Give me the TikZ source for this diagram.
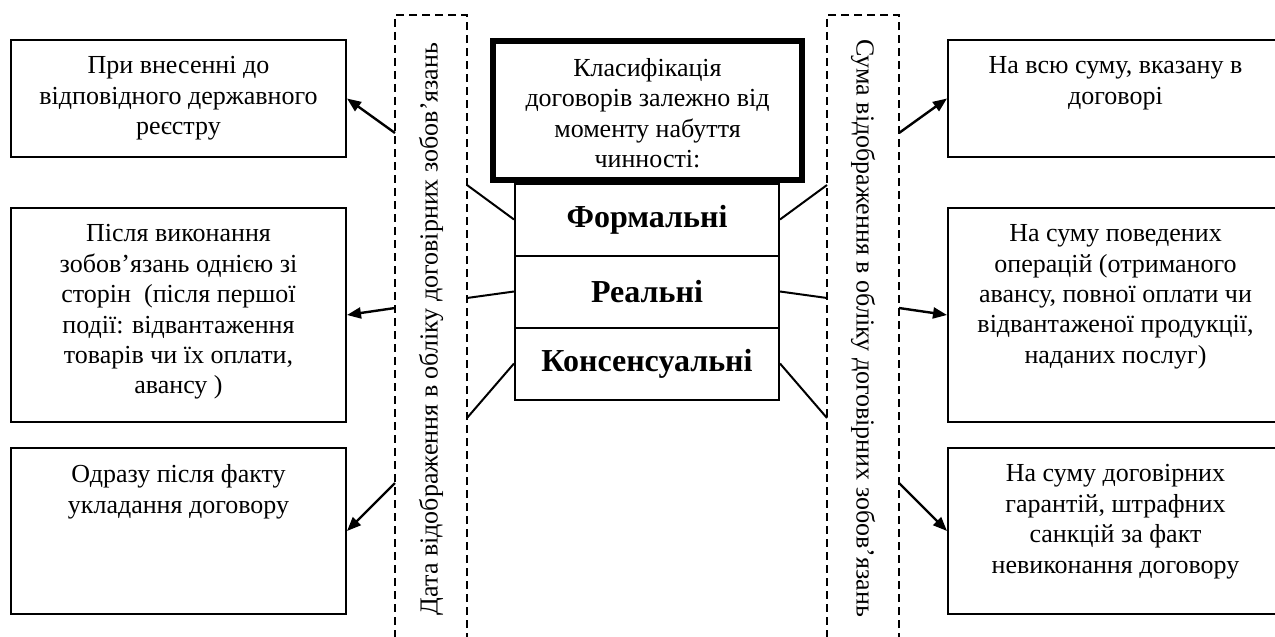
\documentclass[tikz,border=0pt]{standalone}
\usepackage{fontspec}
\setmainfont{Liberation Serif}
\usetikzlibrary{positioning,arrows.meta}
\tikzset{
  sidebox/.style={draw,line width=1pt,minimum width=167.5pt},
  sidetext/.style={align=center,inner sep=0pt,font=\fontsize{13pt}{15.2pt}\selectfont},
  kindbox/.style={draw,line width=1pt,minimum width=132pt,minimum height=36pt,font=\fontsize{16pt}{18pt}\selectfont\bfseries},
  dashbox/.style={draw,dash pattern=on 4pt off 2.5pt,line width=0.8pt,minimum width=36pt,minimum height=322.5pt},
  link/.style={line width=1pt},
  arr/.style={->,line width=1.2pt}
}
\begin{document}
\begin{tikzpicture}[x=0.5pt,y=-0.5pt,>={Triangle[length=7pt,width=5.5pt]}]
\useasboundingbox (0,0) rectangle (1275,637);
\clip (0,0) rectangle (1275,637);
\node[draw,line width=3pt,minimum width=154.5pt,minimum height=69.5pt] (cls) at (647.5,110.5) {};
\node[sidetext] (clst) at (647.5,113) {Класифікація\\договорів залежно від\\моменту набуття\\чинності:};
\node[kindbox] (fml) at (647,219.5) {Формальні};
\node[kindbox] (rl) at (647,291.5) {Реальні};
\node[kindbox] (cns) at (647,363.5) {Консенсуальні};
\node[dashbox] (dl) at (431,337.5) {};
\node[dashbox] (dr) at (863,337.5) {};
\node[sidetext,rotate=90] (dlt) at (431,329) {Дата відображення в обліку договірних зобов’язань};
\node[sidetext,rotate=-90] (drt) at (863,328) {Сума відображення в обліку договірних зобов’язань};
\node[sidebox,minimum height=58.5pt] (lb1) at (178.5,98.5) {};
\node[sidebox,minimum height=107pt] (lb2) at (178.5,315) {};
\node[sidebox,minimum height=83pt] (lb3) at (178.5,531) {};
\node[sidebox,minimum height=58.5pt] (rb1) at (1115.5,98.5) {};
\node[sidebox,minimum height=107pt] (rb2) at (1115.5,315) {};
\node[sidebox,minimum height=83pt] (rb3) at (1115.5,531) {};
\node[sidetext,below=8.6pt of lb1.north] (lt1) {При внесенні до\\відповідного державного\\реєстру};
\node[sidetext,below=8.6pt of lb2.north] (lt2) {Після виконання\\зобов’язань однією зі\\сторін~~(після першої\\події: відвантаження\\товарів чи їх оплати,\\авансу )};
\node[sidetext,below=8.6pt of lb3.north] (lt3) {Одразу після факту\\укладання договору};
\node[sidetext,below=8.6pt of rb1.north] (rt1) {На всю суму, вказану в\\договорі};
\node[sidetext,below=8.6pt of rb2.north] (rt2) {На суму поведених\\операцій (отриманого\\авансу, повної оплати чи\\відвантаженої продукції,\\наданих послуг)};
\node[sidetext,below=8.6pt of rb3.north] (rt3) {На суму договірних\\гарантій, штрафних\\санкцій за факт\\невиконання договору};
\coordinate (la1) at (467,185);
\coordinate (la2) at (467,298);
\coordinate (la3) at (467,418);
\coordinate (ra1) at (827,185);
\coordinate (ra2) at (827,298);
\coordinate (ra3) at (827,418);
\coordinate (lo1) at (395,133);
\coordinate (lo2) at (395,308);
\coordinate (lo3) at (395,483);
\coordinate (ro1) at (899,133);
\coordinate (ro2) at (899,308);
\coordinate (ro3) at (899,483);
\draw[link](la1)--(fml.west);
\draw[link](la2)--(rl.west);
\draw[link](la3)--(cns.west);
\draw[link](ra1)--(fml.east);
\draw[link](ra2)--(rl.east);
\draw[link](ra3)--(cns.east);
\draw[arr](lo1)--(lb1.east);
\draw[arr](lo2)--(lb2.east);
\draw[arr](lo3)--(lb3.east);
\draw[arr](ro1)--(rb1.west);
\draw[arr](ro2)--(rb2.west);
\draw[arr](ro3)--(rb3.west);
\end{tikzpicture}
\end{document}
